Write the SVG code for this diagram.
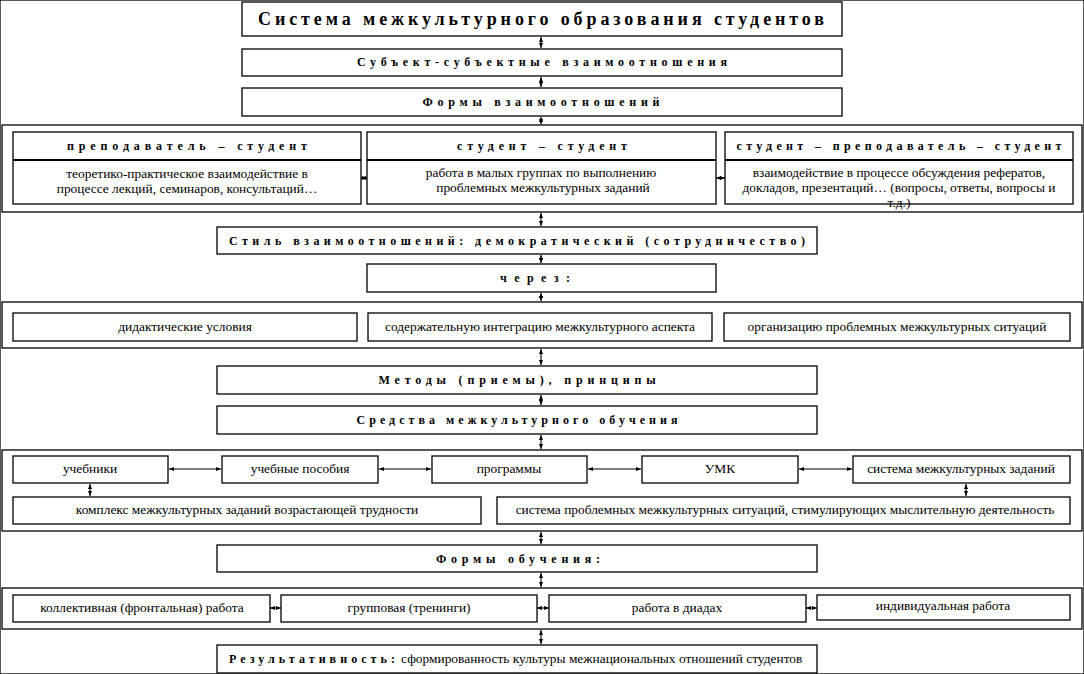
<svg xmlns="http://www.w3.org/2000/svg" width="1084" height="674" viewBox="0 0 1084 674">
<defs>
<marker id="ah" viewBox="0 0 10 10" refX="10" refY="5" markerWidth="5" markerHeight="5" markerUnits="userSpaceOnUse" orient="auto-start-reverse">
<path d="M0,1 L10,5 L0,9 Z" fill="#000"/>
</marker>
</defs>
<style>
rect{fill:#fff;stroke:#000;stroke-width:1.3}
.cont{fill:none}
.div{stroke:#000;stroke-width:2.2}
text{font-family:"Liberation Serif","Times New Roman",serif;fill:#000;text-anchor:middle}
.t{font-size:18px;font-weight:bold}
.h{font-size:12px;font-weight:bold}
.b{font-size:13.4px}
.c line{stroke:#000;stroke-width:1.1;marker-start:url(#ah);marker-end:url(#ah)}
</style>
<rect width="1084" height="674" fill="#fff" stroke="none"/>

<g id="title"><rect x="242" y="2" width="600" height="34"/><text class="t" x="541" y="25" textLength="566" lengthAdjust="spacing">Система межкультурного образования студентов</text></g>
<g id="subj"><rect x="242" y="49" width="600" height="27"/><text class="h" x="542" y="66" textLength="370" lengthAdjust="spacing">Субъект-субъектные взаимоотношения</text></g>
<g id="forms"><rect x="242" y="88" width="600" height="28"/><text class="h" x="541" y="106" textLength="237" lengthAdjust="spacing">Формы взаимоотношений</text></g>

<g id="group1"><rect class="cont" x="2" y="125" width="1080" height="87"/></g>
<g id="ps"><rect x="13" y="132" width="348" height="72"/><line class="div" x1="13" y1="160" x2="361" y2="160"/>
<text class="h" x="187" y="150" textLength="240" lengthAdjust="spacing">преподаватель – студент</text>
<text class="b" x="187" y="178">теоретико-практическое взаимодействие в</text>
<text class="b" x="187" y="193">процессе лекций, семинаров, консультаций…</text></g>
<g id="ss"><rect x="367" y="132" width="349" height="72"/><line class="div" x1="367" y1="160" x2="716" y2="160"/>
<text class="h" x="542" y="150" textLength="170" lengthAdjust="spacing">студент – студент</text>
<text class="b" x="541" y="177">работа в малых группах по выполнению</text>
<text class="b" x="543" y="192">проблемных межкультурных заданий</text></g>
<g id="sps"><rect x="725" y="132" width="348" height="72"/><line class="div" x1="725" y1="160" x2="1073" y2="160"/>
<text class="h" x="899" y="150" textLength="325" lengthAdjust="spacing">студент – преподаватель – студент</text>
<text class="b" x="899" y="177">взаимодействие в процессе обсуждения рефератов,</text>
<text class="b" x="899" y="192">докладов, презентаций… (вопросы, ответы, вопросы и</text>
<text class="b" x="899" y="207">т.д.)</text></g>

<g id="style"><rect x="217" y="227" width="600" height="27"/><text class="h" x="517" y="245" textLength="576" lengthAdjust="spacing">Стиль взаимоотношений: демократический (сотрудничество)</text></g>
<g id="cherez"><rect x="367" y="264" width="349" height="28"/><text class="h" x="535" y="282" textLength="70" lengthAdjust="spacing">через:</text></g>

<g id="group2"><rect class="cont" x="2" y="302" width="1080" height="46"/></g>
<g id="did"><rect x="13" y="313" width="344" height="28"/><text class="b" x="185" y="331">дидактические условия</text></g>
<g id="soder"><rect x="368" y="313" width="344" height="28"/><text class="b" x="540" y="331">содержательную интеграцию межкультурного аспекта</text></g>
<g id="org"><rect x="724" y="313" width="346" height="28"/><text class="b" x="897" y="331">организацию проблемных межкультурных ситуаций</text></g>

<g id="methods"><rect x="217" y="366" width="600" height="28"/><text class="h" x="517" y="384" textLength="277" lengthAdjust="spacing">Методы (приемы), принципы</text></g>
<g id="means"><rect x="217" y="406" width="600" height="28"/><text class="h" x="517" y="424" textLength="321" lengthAdjust="spacing">Средства межкультурного обучения</text></g>

<g id="group3"><rect class="cont" x="2" y="450" width="1080" height="81"/></g>
<g id="ucheb"><rect x="13" y="456" width="155" height="27"/><text class="b" x="90" y="473">учебники</text></g>
<g id="posob"><rect x="222" y="456" width="156" height="27"/><text class="b" x="300" y="473">учебные пособия</text></g>
<g id="progr"><rect x="432" y="456" width="155" height="27"/><text class="b" x="509" y="473">программы</text></g>
<g id="umk"><rect x="642" y="456" width="156" height="27"/><text class="b" x="720" y="473">УМК</text></g>
<g id="sysz"><rect x="853" y="456" width="217" height="27"/><text class="b" x="961" y="473">система межкультурных заданий</text></g>
<g id="kompl"><rect x="13" y="497" width="468" height="27"/><text class="b" x="247" y="514">комплекс межкультурных заданий возрастающей трудности</text></g>
<g id="sysp"><rect x="497" y="497" width="573" height="27"/><text class="b" x="785" y="514">система проблемных межкультурных ситуаций, стимулирующих мыслительную деятельность</text></g>

<g id="formob"><rect x="217" y="545" width="600" height="27"/><text class="h" x="518" y="563" textLength="164" lengthAdjust="spacing">Формы обучения:</text></g>

<g id="group4"><rect class="cont" x="2" y="588" width="1080" height="41"/></g>
<g id="koll"><rect x="13" y="595" width="257" height="27"/><text class="b" x="142" y="612">коллективная (фронтальная) работа</text></g>
<g id="grup"><rect x="281" y="595" width="256" height="27"/><text class="b" x="409" y="612">групповая (тренинги)</text></g>
<g id="diad"><rect x="549" y="595" width="257" height="27"/><text class="b" x="677" y="612">работа в диадах</text></g>
<g id="indiv"><rect x="817" y="595" width="253" height="25"/><text class="b" x="943" y="610">индивидуальная работа</text></g>

<g id="result"><rect x="217" y="645" width="600" height="28"/>
<text x="229" y="663" style="text-anchor:start"><tspan class="h" textLength="166" lengthAdjust="spacing">Результативность:</tspan><tspan class="b" dx="2">сформированность культуры межнациональных отношений студентов</tspan></text></g>

<g id="connectors" class="c">
<line x1="541" y1="37" x2="541" y2="48"/>
<line x1="541" y1="77" x2="541" y2="87"/>
<line x1="541" y1="117" x2="541" y2="124"/>
<line x1="541" y1="213" x2="541" y2="226"/>
<line x1="541" y1="255" x2="541" y2="263"/>
<line x1="541" y1="293" x2="541" y2="301"/>
<line x1="541" y1="349" x2="541" y2="365"/>
<line x1="541" y1="395" x2="541" y2="405"/>
<line x1="541" y1="435" x2="541" y2="449"/>
<line x1="541" y1="532" x2="541" y2="544"/>
<line x1="541" y1="573" x2="541" y2="587"/>
<line x1="541" y1="630" x2="541" y2="644"/>
<line x1="361" y1="178" x2="367" y2="178"/>
<line x1="716" y1="178" x2="725" y2="178"/>
<line x1="169" y1="469" x2="221" y2="469"/>
<line x1="379" y1="469" x2="431" y2="469"/>
<line x1="588" y1="469" x2="641" y2="469"/>
<line x1="799" y1="469" x2="852" y2="469"/>
<line x1="90" y1="484" x2="90" y2="496"/>
<line x1="966" y1="484" x2="966" y2="496"/>
<line x1="270" y1="608" x2="281" y2="608"/>
<line x1="537" y1="608" x2="549" y2="608"/>
<line x1="806" y1="608" x2="817" y2="608"/>
</g>
</svg>
